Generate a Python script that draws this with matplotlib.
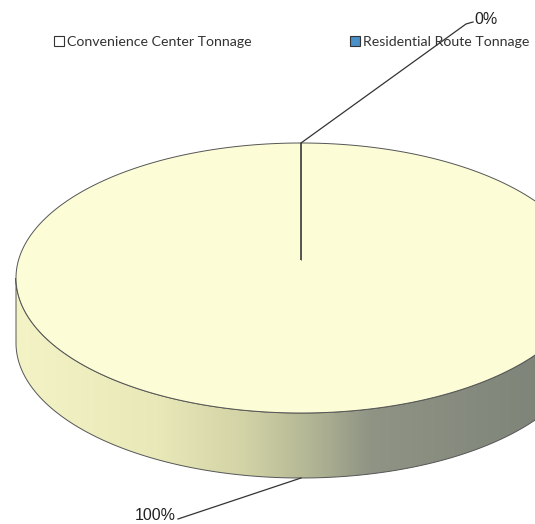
import numpy as np
import matplotlib.pyplot as plt
from matplotlib.patches import Polygon, Patch
from matplotlib.colors import LinearSegmentedColormap

# Dados do gráfico
categorias = ['Convenience Center Tonnage', 'Residential Route Tonnage']
toneladas = [100, 0]
cores_topo = ['#fcfcd6', '#4a90c8']
cores_borda_legenda = ['#333333', '#333333']

# Geometria da "pizza 3D" (em pixels da figura)
cx, cy, rx, ry, prof = 301, 278, 285, 135, 65
cy_persp = 260   # centro aparente (perspectiva)

# cor da lateral: clara à esquerda, escura à direita
cmap_lado = LinearSegmentedColormap.from_list('lado', [
    (0.00, '#f3f3c6'), (0.25, '#e8e8b8'), (0.40, '#d2d3a6'),
    (0.52, '#b2b594'), (0.62, '#8f9485'), (1.00, '#7a8076')])


def ponto(t, dy=0):
    r = np.radians(t)
    return cx + rx*np.cos(r), cy - ry*np.sin(r) + dy


fig = plt.figure(figsize=(5.35, 5.24), dpi=100)
ax = fig.add_axes([0, 0, 1, 1])

total = sum(toneladas)
inicio = 90
fatias = []
for v in toneladas:
    varre = v/total*360
    fatias.append((inicio, inicio - varre))
    inicio -= varre

# Lateral das fatias (só a parte da frente)
for t1, t2 in fatias:
    ts = np.linspace(t1, t2, 721)
    ts = ts[np.sin(np.radians(ts)) <= 0]
    if len(ts) < 2:
        continue
    cima = [ponto(t) for t in ts]
    baixo = [ponto(t, prof) for t in ts[::-1]]
    lado = Polygon(cima + baixo, closed=True, facecolor='none',
                   edgecolor='#555555', lw=0.7, zorder=3)
    ax.add_patch(lado)
    grad = np.linspace(0, 1, 256).reshape(1, -1)
    im = ax.imshow(grad, extent=[cx - rx, cx + rx, cy + ry + prof + 5, cy - 5],
                   cmap=cmap_lado, aspect='auto', zorder=2)
    im.set_clip_path(lado)

# Topo das fatias
for (t1, t2), cor in zip(fatias, cores_topo):
    ts = np.linspace(t1, t2, 721)
    pts = [(cx, cy_persp)] + [ponto(t) for t in ts]
    ax.add_patch(Polygon(pts, closed=True, facecolor=cor,
                         edgecolor='#555555', lw=0.7, zorder=4))

# Rótulos de porcentagem com linhas de chamada
rotulos_xy = [(176, 516), (474, 19)]
for (t1, t2), v, (tx, ty) in zip(fatias, toneladas, rotulos_xy):
    meio = (t1 + t2)/2
    px, py = ponto(meio, prof if np.sin(np.radians(meio)) < 0 else 0)
    if tx < cx:
        ax.plot([px, tx + 8, tx + 2], [py, ty + 1, ty + 3], color='#333333', lw=0.9, zorder=5)
        ax.text(tx, ty, f'{v/total*100:.0f}%', ha='right', va='center',
                fontsize=11.5, family='Liberation Sans', color='#222222')
    else:
        ax.plot([px, tx - 8, tx - 1], [py, ty + 5, ty + 3], color='#333333', lw=0.9, zorder=5)
        ax.text(tx, ty, f'{v/total*100:.0f}%', ha='left', va='center',
                fontsize=11.5, family='Liberation Sans', color='#222222')

ax.set_xlim(0, 535)
ax.set_ylim(524, 0)
ax.axis('off')

# Legenda
alcas = [Patch(facecolor='white' if i == 0 else c, edgecolor=e, lw=0.8)
         for i, (c, e) in enumerate(zip(cores_topo, cores_borda_legenda))]
fig.legend(alcas, categorias, ncol=2, loc='upper left',
           bbox_to_anchor=(54/535, 1 - 36/524), frameon=False, borderpad=0,
           borderaxespad=0, handlelength=0.7, handleheight=0.7,
           handletextpad=0.25, columnspacing=6.9,
           prop={'family': 'Lato', 'size': 10.2}, labelcolor='#333333')

fig.savefig('out.png', dpi=100)
